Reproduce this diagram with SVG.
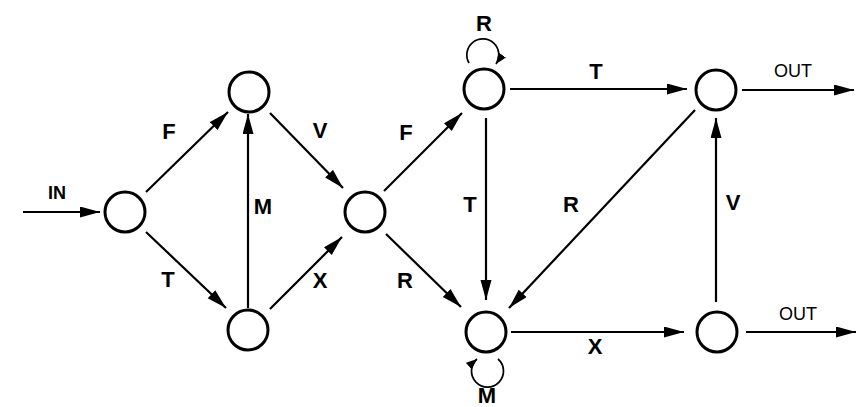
<svg xmlns="http://www.w3.org/2000/svg" width="857" height="407" viewBox="0 0 857 407">
<defs>
<marker id="ah" markerUnits="userSpaceOnUse" markerWidth="21" markerHeight="12" refX="20" refY="5.5" orient="auto">
<path d="M0,0 L20,5.5 L0,11 z" fill="#000"/>
</marker>
<marker id="ahs" markerUnits="userSpaceOnUse" markerWidth="12" markerHeight="10" refX="11" refY="4.5" orient="auto">
<path d="M0,0 L11,4.5 L0,9 z" fill="#000"/>
</marker>
<style>
.node{fill:#fff;stroke:#000;stroke-width:3}
.e{fill:none;stroke:#000;stroke-width:2.2;marker-end:url(#ah)}
.loop{fill:none;stroke:#000;stroke-width:1.7;marker-end:url(#ahs)}
.lb{font-family:"Liberation Sans",Arial,sans-serif;font-weight:bold;font-size:22px;text-anchor:middle;fill:#000}
.io{font-family:"Liberation Sans",Arial,sans-serif;font-size:18px;text-anchor:middle;fill:#000}
</style>
</defs>
<rect width="857" height="407" fill="#fff"/>
<g id="connectors">
<line class="e" x1="23" y1="212" x2="100" y2="212"/>
<line class="e" x1="146" y1="192" x2="228" y2="112"/>
<line class="e" x1="146" y1="232" x2="226" y2="308"/>
<line class="e" x1="248" y1="308" x2="248" y2="114"/>
<line class="e" x1="270" y1="113" x2="343" y2="188"/>
<line class="e" x1="270" y1="309" x2="342" y2="237"/>
<line class="e" x1="384" y1="191" x2="462" y2="113"/>
<line class="e" x1="386" y1="234" x2="461" y2="307"/>
<line class="e" x1="486" y1="118" x2="486" y2="300"/>
<line class="e" x1="510" y1="89" x2="687" y2="89"/>
<line class="e" x1="695" y1="110" x2="509" y2="308"/>
<line class="e" x1="511" y1="332" x2="684" y2="332"/>
<line class="e" x1="716" y1="302" x2="716" y2="118"/>
<line class="e" x1="742" y1="90" x2="854" y2="90"/>
<line class="e" x1="746" y1="332" x2="856" y2="332"/>
<path class="loop" d="M469,63 A16,16 0 1,1 496,64"/>
<path class="loop" d="M498,359 A16,16 0 1,1 477,359"/>
</g>
<g id="labels">
<text class="lb" x="57" y="199" style="font-size:18px">IN</text>
<text class="lb" x="169" y="139">F</text>
<text class="lb" x="168" y="287">T</text>
<text class="lb" x="263" y="214">M</text>
<text class="lb" x="320" y="138">V</text>
<text class="lb" x="320" y="288">X</text>
<text class="lb" x="406" y="140">F</text>
<text class="lb" x="405" y="288">R</text>
<text class="lb" x="470" y="212">T</text>
<text class="lb" x="484" y="31">R</text>
<text class="lb" x="487" y="403">M</text>
<text class="lb" x="596" y="79">T</text>
<text class="lb" x="571" y="212">R</text>
<text class="lb" x="595" y="354">X</text>
<text class="lb" x="733" y="210">V</text>
<text class="io" x="793" y="77">OUT</text>
<text class="io" x="798" y="320">OUT</text>
</g>
<g id="n1"><circle class="node" cx="125" cy="212" r="20"/></g>
<g id="n2"><circle class="node" cx="249" cy="92" r="20"/></g>
<g id="n3"><circle class="node" cx="248" cy="330" r="20"/></g>
<g id="n4"><circle class="node" cx="365" cy="212" r="20"/></g>
<g id="n5"><circle class="node" cx="484" cy="89" r="20"/></g>
<g id="n6"><circle class="node" cx="486" cy="332" r="20"/></g>
<g id="n7"><circle class="node" cx="716" cy="90" r="20"/></g>
<g id="n8"><circle class="node" cx="717" cy="332" r="20"/></g>
</svg>
